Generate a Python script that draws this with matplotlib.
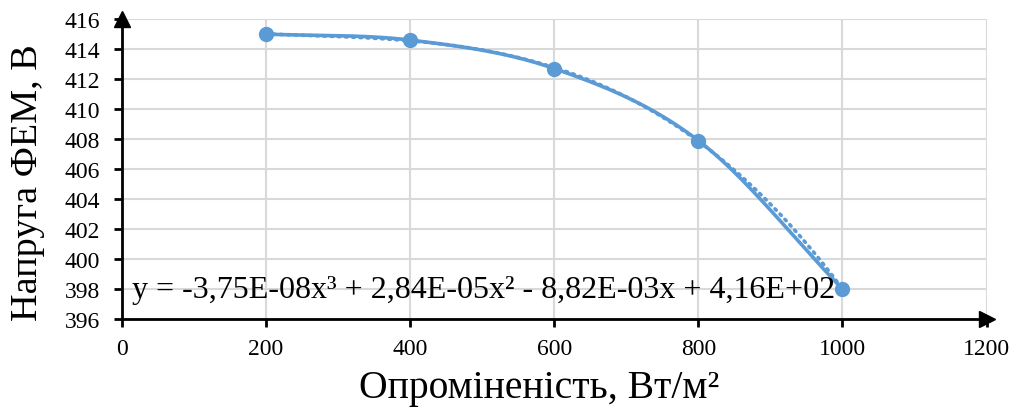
import numpy as np
import matplotlib
matplotlib.use('Agg')
import matplotlib.pyplot as plt

# data
irradiance = [200, 400, 600, 800, 1000]
voltage = [415.0, 414.6, 412.7, 407.9, 398.0]
xticks = [0, 200, 400, 600, 800, 1000, 1200]
yticks = [396, 398, 400, 402, 404, 406, 408, 410, 412, 414, 416]
equation = 'y = -3,75E-08x³ + 2,84E-05x² - 8,82E-03x + 4,16E+02'

plt.rcParams['font.family'] = ['Liberation Serif', 'DejaVu Serif']

blue = '#5B9BD5'


# Catmull-Rom style smoothing, similar to Excel's smoothed line
def smooth(xs, ys, n=40):
    xs = np.array(xs, float)
    ys = np.array(ys, float)
    px = np.concatenate([[2 * xs[0] - xs[1]], xs, [2 * xs[-1] - xs[-2]]])
    py = np.concatenate([[2 * ys[0] - ys[1]], ys, [2 * ys[-1] - ys[-2]]])
    outx, outy = [], []
    for i in range(1, len(px) - 2):
        t = np.linspace(0, 1, n)
        for p, out in ((px, outx), (py, outy)):
            p0, p1, p2, p3 = p[i - 1], p[i], p[i + 1], p[i + 2]
            out.extend(0.5 * ((2 * p1) + (-p0 + p2) * t
                              + (2 * p0 - 5 * p1 + 4 * p2 - p3) * t ** 2
                              + (-p0 + 3 * p1 - 3 * p2 + p3) * t ** 3))
    return np.array(outx), np.array(outy)


fig = plt.figure(figsize=(10.16, 4.1), dpi=100)
ax = fig.add_axes([0.120, 0.2195, 0.851, 0.7315])

# polynomial trendline (dotted)
coef = np.polyfit(irradiance, voltage, 3)
tx = np.linspace(irradiance[0], irradiance[-1], 200)
ax.plot(tx, np.polyval(coef, tx), color=blue, lw=2.6, ls=(0, (0.5, 1.5)),
        dash_capstyle='round', zorder=3)

sx, sy = smooth(irradiance, voltage)
ax.plot(sx, sy, color=blue, lw=2.6, zorder=4)
ax.plot(irradiance, voltage, 'o', color=blue, ms=10, zorder=5)

ax.set_xlim(0, 1200)
ax.set_ylim(396, 416)
ax.set_xticks(xticks)
ax.set_yticks(yticks)
ax.tick_params(labelsize=17, width=2, length=6, direction='out', color='black')
ax.tick_params(axis='x', pad=8)
ax.tick_params(axis='y', pad=10)
ax.grid(True, color='#d9d9d9', lw=1.5)
ax.set_axisbelow(True)

for s in ['top', 'right']:
    ax.spines[s].set_visible(False)
for s in ['left', 'bottom']:
    ax.spines[s].set_linewidth(2)

# arrow heads at axis ends
ax.plot(1, 0, '>', color='black', ms=11, transform=ax.transAxes, clip_on=False)
ax.plot(0, 1, '^', color='black', ms=11, transform=ax.transAxes, clip_on=False)

ax.set_xlabel('Опроміненість, Вт/м²', fontsize=28.5, labelpad=7)
ax.xaxis.label.set_x(0.483)
ax.set_ylabel('Напруга ФЕМ, В', fontsize=27.5, labelpad=14)
ax.yaxis.label.set_y(0.457)

ax.text(0.012, 0.10, equation, transform=ax.transAxes, fontsize=23,
        va='center', ha='left', zorder=6)

fig.savefig('out.png', dpi=100)
